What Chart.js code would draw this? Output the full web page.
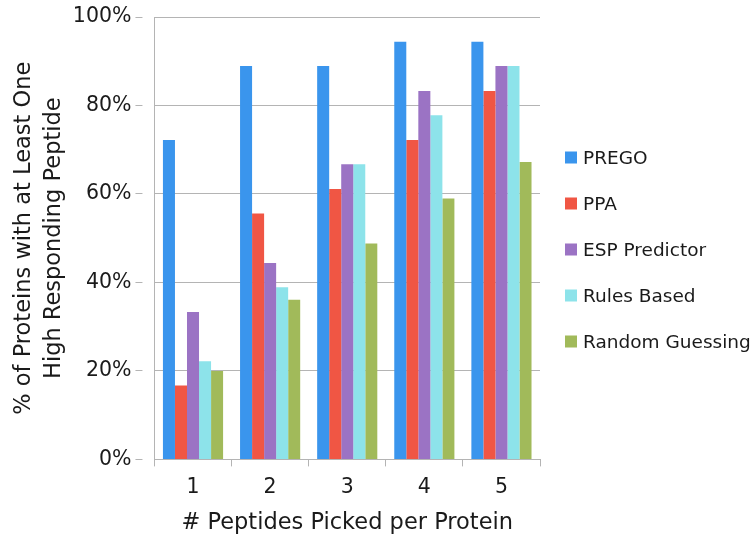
<!DOCTYPE html>
<html>
<head>
<meta charset="utf-8">
<script src="https://cdn.jsdelivr.net/npm/chart.js@4"></script>
<style>
html,body{margin:0;padding:0;background:#fff;}
#wrap{width:756px;height:539px;position:relative;}
</style>
</head>
<body>
<div id="wrap"><canvas id="c" width="756" height="539"></canvas></div>
<script>
const categories = ['1', '2', '3', '4', '5'];
const seriesNames = ['PREGO', 'PPA', 'ESP Predictor', 'Rules Based', 'Random Guessing'];
const prego = [72.2, 88.9, 88.9, 94.4, 94.4];
const ppa = [16.7, 55.6, 61.1, 72.2, 83.3];
const espPredictor = [33.3, 44.4, 66.7, 83.3, 88.9];
const rulesBased = [22.2, 38.9, 66.7, 77.8, 88.9];
const randomGuessing = [20.0, 36.1, 48.8, 59.0, 67.2];
const yTicks = [0, 20, 40, 60, 80, 100];
const colors = ['#3A95ED', '#F05644', '#9B73C4', '#8DE3EA', '#A1BA5A'];

const seriesValues = [prego, ppa, espPredictor, rulesBased, randomGuessing];
const FONT = '"DejaVu Sans", sans-serif';
const TXT = '#1a1a1a';
const GRID = '#b4b4b4';

// Legend drawn beside the plot using the chart's own dataset labels/colours
const sideLegend = {
  id: 'sideLegend',
  afterDraw(chart) {
    const ctx = chart.ctx;
    const area = chart.chartArea;
    const boxX = area.right + 25;
    const firstY = 157.5;
    const step = 46;
    const box = 12;
    ctx.save();
    ctx.font = '18.5px ' + FONT;
    ctx.textBaseline = 'alphabetic';
    ctx.textAlign = 'left';
    chart.data.datasets.forEach((ds, i) => {
      const cy = firstY + i * step;
      ctx.fillStyle = ds.backgroundColor;
      ctx.fillRect(boxX, cy - box / 2, box, box);
      ctx.fillStyle = TXT;
      ctx.fillText(ds.label, boxX + box + 6, cy + 6.7);
    });
    ctx.restore();
  }
};

new Chart(document.getElementById('c'), {
  type: 'bar',
  data: {
    labels: categories,
    datasets: seriesNames.map((n, i) => ({
      label: n,
      data: seriesValues[i],
      backgroundColor: colors[i],
      borderWidth: 0,
      categoryPercentage: 0.78,
      barPercentage: 1.0
    }))
  },
  options: {
    responsive: false,
    animation: false,
    devicePixelRatio: 1,
    layout: { padding: { left: 9, right: 216, top: 17, bottom: 2 } },
    plugins: {
      tooltip: { enabled: false },
      legend: { display: false }
    },
    scales: {
      x: {
        grid: {
          offset: true,
          drawOnChartArea: false,
          drawTicks: true,
          tickLength: 7,
          color: GRID
        },
        border: { color: GRID, width: 1 },
        ticks: { color: TXT, font: { family: FONT, size: 20.5 }, padding: 8.5 },
        title: {
          display: true,
          text: '# Peptides Picked per Protein',
          color: TXT,
          font: { family: FONT, size: 22.5 },
          padding: { top: 2, bottom: 0 }
        }
      },
      y: {
        min: 0,
        max: 100,
        afterBuildTicks: (ax) => { ax.ticks = yTicks.map(v => ({ value: v })); },
        grid: {
          color: GRID,
          tickLength: 19,
          tickBorderDash: [7, 40],
          drawTicks: true
        },
        border: { color: GRID, width: 1 },
        ticks: {
          color: TXT,
          font: { family: FONT, size: 20.5 },
          padding: 4,
          callback: (v) => v + '%'
        },
        title: {
          display: true,
          text: ['% of Proteins with at Least One', 'High Responding Peptide'],
          color: TXT,
          font: { family: FONT, size: 22.5, lineHeight: 1.33 },
          padding: { top: 0, bottom: 0 }
        }
      }
    }
  },
  plugins: [sideLegend]
});
</script>
</body>
</html>
